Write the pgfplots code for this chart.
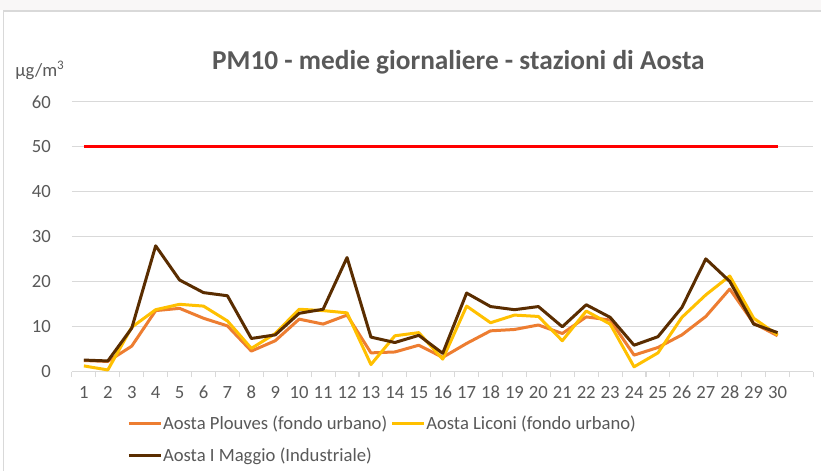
\documentclass[border=0pt]{standalone}
\usepackage{pgfplots}
\pgfplotsset{compat=1.18}
\usepackage{fontspec}
\setmainfont{Carlito}
\definecolor{cOr}{HTML}{ED7D31}
\definecolor{cYe}{HTML}{FFC000}
\definecolor{cBr}{HTML}{5A2D00}
\definecolor{cGrid}{HTML}{D9D9D9}
\definecolor{cTxt}{HTML}{595959}
\definecolor{cBand}{HTML}{F9F7F7}
\begin{document}
\begin{tikzpicture}[x=1pt,y=1pt]
\path[fill=white] (0,0) rectangle (616.5,353.25);
\fill[cBand] (0,345.75) rectangle (616.5,353.25);
\draw[cGrid,line width=0.8pt] (2.5,0) -- (2.5,345) -- (616.5,345);
\begin{axis}[
  at={(54pt,74.25pt)}, anchor=south west,
  scale only axis, width=556.5pt, height=202.5pt,
  xmin=0.5, xmax=31.5, ymin=0, ymax=60,
  xtick={1,...,30},
  minor xtick={0.5,1.5,...,31.5},
  ytick={0,10,...,60},
  axis line style={draw=none},
  axis x line*=bottom, axis y line*=left,
  x axis line style={draw=cGrid, line width=0.8pt},
  y axis line style={draw=none},
  major x tick style={draw=none},
  minor x tick style={draw=cGrid, line width=0.8pt},
  minor tick length=4pt,
  ytick style={draw=none},
  tick align=outside,
  ymajorgrids, grid style={cGrid, line width=0.8pt},
  tick label style={font=\fontsize{14}{16}\selectfont, text=cTxt},
  /pgf/number format/assume math mode=true,
  xticklabel style={yshift=-3pt},
  yticklabel style={xshift=-8pt},
  clip=false,
  legend columns=2,
  legend style={at={(0.069,-0.151)}, anchor=north west, draw=none, fill=none,
    font=\fontsize{14}{16}\selectfont, text=cTxt, row sep=11.25pt,
    /tikz/every even column/.append style={column sep=2pt},
    nodes={inner sep=0.5pt}},
  legend cell align=left,
  legend image code/.code={\draw[#1, line width=2.25pt] (0pt,0pt) -- (24pt,0pt);},
]
\addplot[cOr, line width=2.25pt, line join=round] coordinates {
(1,2.5)(2,2.3)(3,5.7)(4,13.6)(5,14.1)(6,11.9)(7,10.2)(8,4.6)(9,6.9)(10,11.7)
(11,10.6)(12,12.6)(13,4.2)(14,4.4)(15,5.9)(16,3.2)(17,6.3)(18,9.1)(19,9.4)(20,10.4)
(21,8.5)(22,12.2)(23,11.5)(24,3.7)(25,5.4)(26,8.2)(27,12.3)(28,18.4)(29,10.8)(30,8.0)};
\addlegendentry{Aosta Plouves (fondo urbano)}
\addplot[cYe, line width=2.25pt, line join=round] coordinates {
(1,1.3)(2,0.4)(3,9.9)(4,13.8)(5,15.0)(6,14.6)(7,11.3)(8,5.2)(9,8.5)(10,13.9)
(11,13.6)(12,13.1)(13,1.6)(14,8.0)(15,8.7)(16,2.8)(17,14.6)(18,10.9)(19,12.6)(20,12.3)
(21,6.9)(22,13.5)(23,10.6)(24,1.1)(25,4.2)(26,12.1)(27,17.1)(28,21.3)(29,11.9)(30,8.2)};
\addlegendentry{Aosta Liconi (fondo urbano)}
\addplot[cBr, line width=2.25pt, line join=round] coordinates {
(1,2.6)(2,2.4)(3,9.7)(4,28.0)(5,20.4)(6,17.6)(7,16.9)(8,7.4)(9,8.2)(10,13.0)
(11,13.9)(12,25.4)(13,7.7)(14,6.5)(15,8.1)(16,4.1)(17,17.5)(18,14.5)(19,13.8)(20,14.5)
(21,10.0)(22,14.9)(23,12.1)(24,5.9)(25,7.8)(26,14.3)(27,25.1)(28,20.1)(29,10.6)(30,8.7)};
\addlegendentry{Aosta I Maggio (Industriale)}
\addplot[red, line width=2.25pt, forget plot] coordinates {(1,50)(30,50)};
\end{axis}
\node[text=cTxt, font=\bfseries\fontsize{20.5}{24}\selectfont] at (344,306.75) {PM10 - medie giornaliere - stazioni di Aosta};
\node[text=cTxt, font=\fontsize{14}{16}\selectfont, anchor=west] at (8,300.75) {µg/m\textsuperscript{3}};
\end{tikzpicture}
\end{document}
